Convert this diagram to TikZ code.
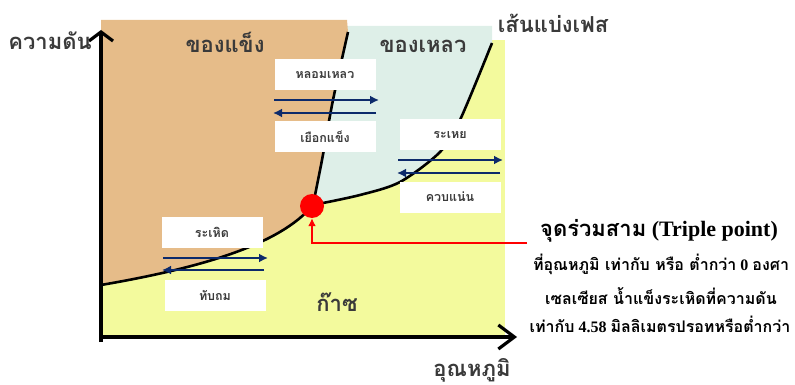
\documentclass[tikz,border=0pt]{standalone}
\usepackage{fontspec}
\setmainfont{Liberation Serif}
\newfontfamily\thai[Script=Thai]{Loma}
\usetikzlibrary{arrows.meta}
\definecolor{solidc}{HTML}{E6BC89}
\definecolor{liqc}{HTML}{DEEFE8}
\definecolor{gasc}{HTML}{F3FA9D}
\definecolor{navy}{HTML}{0C2A6B}
\definecolor{txt}{HTML}{3A3A3A}
\tikzset{
  lbl/.style={text=txt, inner sep=0pt, anchor=base, font=\thai\bfseries\fontsize{22}{26}\selectfont},
  boxlbl/.style={fill=white, text=txt, inner sep=0pt, minimum width=101pt, minimum height=31pt, font=\thai\bfseries\fontsize{12.5}{15}\selectfont},
  infoline/.style={text=black, inner sep=0pt, anchor=base, font=\bfseries\fontsize{16}{19}\selectfont},
  phase/.style={line width=2.6pt, black},
  axis/.style={line width=3.2pt, black},
  navyarr/.style={navy, line width=2pt, -{Latex[length=9pt,width=9pt]}},
  redarr/.style={red, line width=2.4pt, -{Latex[length=8pt,width=8pt]}}
}
\begin{document}
\begin{tikzpicture}[x=1pt,y=-1pt]
\useasboundingbox (0,0) rectangle (795,385);
% regions
\fill[gasc] (101,40) rectangle (505,337);
\fill[liqc] (347,26) -- (492,26) -- (492,43)
  -- plot[smooth] coordinates {(492,43) (460,120) (440,152) (400,182) (360,195) (313,205)}
  -- plot[smooth] coordinates {(313,205) (322,160) (333,100) (348,32)} -- cycle;
\fill[solidc] (101,20) -- (347,20) -- (348,32)
  -- plot[smooth] coordinates {(348,32) (333,100) (322,160) (313,205)}
  .. controls (280,245) and (200,268) .. (101,285) -- cycle;
% phase boundaries
\draw[phase] plot[smooth] coordinates {(348,32) (333,100) (322,160) (313,205)};
\draw[phase] plot[smooth] coordinates {(313,205) (360,195) (400,182) (440,152) (460,120) (492,43)};
\draw[phase] (101,285) .. controls (200,268) and (280,245) .. (313,205);
% axes
\coordinate (o) at (101,337);
\coordinate (ytop) at (101,30);
\coordinate (xend) at (517,337);
\draw[axis, -{Straight Barb[length=9pt,width=24pt,line width=3.2pt]}] (101,342) -- (ytop);
\draw[axis, -{Straight Barb[length=16pt,width=24pt,line width=3.2pt]}] (o) -- (xend);
% labels
\node[lbl] (pl) at (50,50) {ความดัน};
\node[lbl] (sl) at (225,53) {ของแข็ง};
\node[lbl] (ll) at (423,53) {ของเหลว};
\node[lbl, fill=white, inner sep=2pt] (bl) at (553,33) {เส้นแบ่งเฟส};
\node[lbl] (gl) at (337,311) {ก๊าซ};
\node[lbl] (tl) at (472,376) {อุณหภูมิ};
% process boxes
\node[boxlbl] (melt) at (325,75) {หลอมเหลว};
\node[boxlbl] (freeze) at (325,137) {เยือกแข็ง};
\node[boxlbl] (evap) at (450,135) {ระเหย};
\node[boxlbl] (cond) at (450,197) {ควบแน่น};
\node[boxlbl] (subl) at (212,232) {ระเหิด};
\node[boxlbl] (dep) at (215,295) {ทับถม};
% double arrows
\coordinate (m1) at (274,100); \coordinate (m2) at (379,100);
\coordinate (f1) at (376,113); \coordinate (f2) at (273,113);
\coordinate (e1) at (398,160); \coordinate (e2) at (503,160);
\coordinate (c1) at (500,173); \coordinate (c2) at (397,173);
\coordinate (s1) at (163,258); \coordinate (s2) at (268,258);
\coordinate (d1) at (264,270); \coordinate (d2) at (162,270);
\draw[navyarr] (m1) -- (m2);
\draw[navyarr] (f1) -- (f2);
\draw[navyarr] (e1) -- (e2);
\draw[navyarr] (c1) -- (c2);
\draw[navyarr] (s1) -- (s2);
\draw[navyarr] (d1) -- (d2);
% triple point
\node[circle, fill=red, inner sep=0pt, minimum size=24pt] (tp) at (312,206) {};
\coordinate (rl) at (527,243);
\draw[redarr] (rl) -- (tp.south |- rl) -- (tp.south);
% info text
\node[infoline, font=\bfseries\fontsize{22}{26}\selectfont] (t0) at (659,236) {{\thai จุดร่วมสาม} (Triple point)};
\node[infoline] (t1) at (661,270) {{\thai ที่อุณหภูมิ เท่ากับ หรือ ต่ำกว่า} 0 {\thai องศา}};
\node[infoline] (t2) at (661,304) {\thai เซลเซียส น้ำแข็งระเหิดที่ความดัน};
\node[infoline] (t3) at (660,332) {{\thai เท่ากับ} 4.58 {\thai มิลลิเมตรปรอทหรือต่ำกว่า}};
\end{tikzpicture}
\end{document}
